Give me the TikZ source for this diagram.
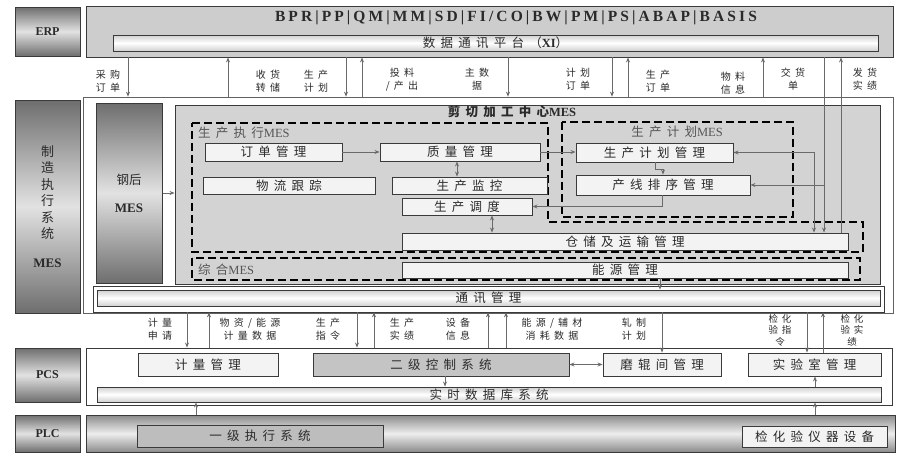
\documentclass[tikz,border=0pt]{standalone}
\usepackage{fontspec}
\setmainfont{Liberation Serif}
\newfontfamily\cjk{Noto Sans CJK SC}[LetterSpace=42]
\newfontfamily\cjkn{Noto Sans CJK SC}
\newfontfamily\ttl{Liberation Serif}[LetterSpace=20]
\newcommand\lat[1]{{\rmfamily #1}}
\usetikzlibrary{arrows.meta}
\definecolor{txt}{HTML}{2A2A2A}
\definecolor{edge}{HTML}{3A3A3A}
\definecolor{arrc}{HTML}{6A6A6A}
\definecolor{panelfill}{HTML}{CDCDCD}
\definecolor{shearfill}{HTML}{D3D3D3}
\definecolor{boxfill}{HTML}{F3F3F3}
\definecolor{ctrlfill}{HTML}{C4C4C4}
\definecolor{lonefill}{HTML}{BDBDBD}
\definecolor{labdark}{HTML}{6E6E6E}
\definecolor{lablight}{HTML}{E2E2E2}
\definecolor{bardark}{HTML}{D0D0D0}
\definecolor{grptxt}{HTML}{555555}
\begin{document}
\begin{tikzpicture}[x=1pt,y=-1pt,
  wh/.style n args={2}{minimum width=#1pt,minimum height=#2pt},
  lbl/.style={draw=edge,line width=1pt,top color=labdark,bottom color=labdark,middle color=lablight,
    font=\rmfamily\bfseries\fontsize{12}{14}\selectfont,text=txt,inner sep=0pt},
  panel/.style={draw=edge,line width=0.9pt,fill=panelfill,inner sep=0pt},
  frame/.style={draw=edge!80,line width=0.7pt,fill=white,inner sep=0pt},
  box/.style={draw=edge,line width=0.9pt,fill=boxfill,inner sep=0pt,text=txt,
    font=\cjk\fontsize{12.5}{14}\selectfont},
  bar/.style={draw=edge,line width=0.9pt,top color=bardark,bottom color=bardark,middle color=white,
    inner sep=0pt,text=txt,font=\cjk\fontsize{12.5}{14}\selectfont},
  grp/.style={text=grptxt,font=\cjk\fontsize{12.5}{14}\selectfont,inner sep=0pt},
  alab/.style={text=txt,font=\cjk\fontsize{10}{13}\selectfont,align=center,inner sep=0pt},
  arr/.style={draw=arrc,line width=0.8pt,-{Stealth[length=5pt,width=4pt]}},
  darr/.style={draw=arrc,line width=0.8pt,{Stealth[length=5pt,width=4pt]}-{Stealth[length=5pt,width=4pt]}},
  dsh/.style={draw=black,line width=2pt,dash pattern=on 8pt off 4pt}
]
\useasboundingbox (0,0) rectangle (897,455);
\fill[white] (0,0) rectangle (897,455);

% ---------------- ERP ----------------
\node[lbl,wh={65}{49}] (erpL) at (47.5,31.5) {ERP};
\node[panel,wh={807}{51}] (erp) at (489.5,31.5) {};
\node[text=txt,font=\ttl\bfseries\fontsize{15.5}{17}\selectfont,inner sep=0pt] (modules) at (516,18)
  {BPR|PP|QM|MM|SD|FI/CO|BW|PM|PS|ABAP|BASIS};
\node[bar,wh={765}{16}] (xi) at (495.5,43) {数据通讯平台（\lat{\bfseries XI}）};

% ---------------- MES ----------------
\node[lbl,wh={65}{213},align=center,font=\cjkn\fontsize{13}{16.5}\selectfont] (mesL) at (47.5,206.5)
  {制\\造\\执\\行\\系\\统\\[12pt]\lat{\bfseries MES}};
\node[frame,wh={810}{216}] (mes) at (488,205) {};
\node[lbl,wh={66}{180},align=center,font=\cjkn\fontsize{12.5}{28}\selectfont] (steel) at (129,193)
  {钢后\\\lat{\bfseries\fontsize{13}{14}\selectfont MES}};
\node[panel,fill=shearfill,wh={705}{179}] (shear) at (527.5,194.5) {};
\node[text=txt,font=\cjk\bfseries\fontsize{12.5}{14}\selectfont,inner sep=0pt] (shearT) at (512,112)
  {剪切加工中心\lat{\bfseries MES}};

\draw[dsh] (192,123) -- (548,123) -- (548,222) -- (863,222) -- (863,252) -- (192,252) -- cycle;
\node[grp,anchor=west] (execT) at (198,133) {生产执行\lat{MES}};
\draw[dsh] (562,122) rectangle (793,217);
\node[grp] (planT) at (677,132) {生产计划\lat{MES}};
\draw[dsh] (192,258) rectangle (860,280);
\node[grp,anchor=west] (intT) at (198,270) {综合\lat{MES}};

\node[box,wh={137}{18}] (order) at (273.5,152) {订单管理};
\node[box,wh={160}{18}] (qual) at (460,152) {质量管理};
\node[box,wh={172}{17}] (logi) at (289,185.5) {物流跟踪};
\node[box,wh={155}{17}] (mon) at (469.5,185.5) {生产监控};
\node[box,wh={130}{17}] (disp) at (467,206.5) {生产调度};
\node[box,wh={446}{17}] (store) at (625,241.5) {仓储及运输管理};
\node[box,wh={446}{16}] (energy) at (625,270) {能源管理};
\node[box,wh={157}{19}] (plan) at (654.5,152.5) {生产计划管理};
\node[box,wh={174}{20}] (seq) at (663,185) {产线排序管理};

\node[frame,draw=edge,wh={791}{26}] (commF) at (488.5,299) {};
\node[bar,wh={783}{16}] (comm) at (488.5,298) {通讯管理};

% internal connectors
\draw[arr] (steel.east) -- (shear.west |- steel.east);
\draw[arr] (order.east) -- (qual.west);
\draw[darr] (457,0 |- qual.south) -- (457,0 |- mon.north);
\draw[darr] (492,0 |- disp.south) -- (492,0 |- store.north);
\draw[arr] (qual.east) -- (plan.west |- qual.east);
\draw[arr] (655,0 |- plan.south) -- (655,169) -- (663,169) -- (663,0 |- seq.north);
\draw[arr] (662,0 |- seq.south) -- (662,0 |- disp.east) -- (disp.east);
\draw[darr] (plan.east) -- (814,0 |- plan.east) -- (814,0 |- store.north);
\draw[arr] (824,0 |- seq.east) -- (seq.east);
\draw[arr] (energy.south -| 660,0) -- (660,0 |- comm.north);

% ERP <-> MES connectors
\draw[arr] (128,0 |- erp.south) -- (128,0 |- mes.north);
\draw[arr] (228,0 |- mes.north) -- (228,0 |- erp.south);
\draw[arr] (346,0 |- erp.south) -- (346,0 |- mes.north);
\draw[arr] (362,0 |- mes.north) -- (362,0 |- erp.south);
\draw[arr] (508,0 |- erp.south) -- (508,0 |- mes.north);
\draw[arr] (612,0 |- erp.south) -- (612,0 |- mes.north);
\draw[arr] (628,0 |- mes.north) -- (628,0 |- erp.south);
\draw[arr] (763,0 |- mes.north) -- (763,0 |- erp.south);
\draw[arr] (824,0 |- erp.south) -- (824,0 |- store.north);
\draw[arr] (841,0 |- store.north) -- (841,0 |- erp.south);

\node[alab] (l1) at (108,81.5) {采购\\订单};
\node[alab] (l2) at (268,81.5) {收货\\转储};
\node[alab] (l3) at (316,81.5) {生产\\计划};
\node[alab] (l4) at (402,79.5) {投料\\/产出};
\node[alab] (l5) at (477,79.5) {主数\\据};
\node[alab] (l6) at (578,79.5) {计划\\订单};
\node[alab] (l7) at (658,81.5) {生产\\订单};
\node[alab] (l8) at (733,83.5) {物料\\信息};
\node[alab] (l9) at (793,79.5) {交货\\单};
\node[alab] (l10) at (865,79.5) {发货\\实绩};

% ---------------- PCS ----------------
\node[lbl,wh={65}{54}] (pcsL) at (47.5,375) {PCS};
\node[frame,draw=edge,line width=0.9pt,wh={806}{57}] (pcs) at (489,376.5) {};
\node[box,wh={140}{23}] (meter) at (208,364.5) {计量管理};
\node[box,fill=ctrlfill,wh={256}{23}] (ctrl) at (441,364.5) {二级控制系统};
\node[box,wh={118}{23}] (mill) at (662,364.5) {磨辊间管理};
\node[box,wh={133}{23}] (lab) at (814.5,364.5) {实验室管理};
\node[bar,wh={784}{15}] (rt) at (489,394.5) {实时数据库系统};
\draw[darr] (ctrl.east) -- (mill.west);
\draw[arr] (445,0 |- ctrl.south) -- (445,0 |- rt.north);
\draw[arr] (815,0 |- rt.north) -- (815,0 |- lab.south);

% MES <-> PCS connectors
\draw[arr] (187,0 |- commF.south) -- (187,0 |- pcs.north);
\draw[arr] (209,0 |- pcs.north) -- (209,0 |- commF.south);
\draw[arr] (357,0 |- commF.south) -- (357,0 |- pcs.north);
\draw[arr] (374,0 |- pcs.north) -- (374,0 |- commF.south);
\draw[arr] (488,0 |- pcs.north) -- (488,0 |- commF.south);
\draw[arr] (506,0 |- pcs.north) -- (506,0 |- commF.south);
\draw[arr] (662,0 |- commF.south) -- (mill.north);
\draw[arr] (807,0 |- commF.south) -- (807,0 |- lab.north);
\draw[arr] (823,0 |- lab.north) -- (823,0 |- commF.south);

\node[alab] (m1) at (160,329) {计量\\申请};
\node[alab] (m2) at (250,329) {物资/能源\\计量数据};
\node[alab] (m3) at (328,329) {生产\\指令};
\node[alab] (m4) at (402,329) {生产\\实绩};
\node[alab] (m5) at (458,329) {设备\\信息};
\node[alab] (m6) at (552,329) {能源/辅材\\消耗数据};
\node[alab] (m7) at (634,329) {轧制\\计划};
\node[alab,font=\cjk\fontsize{9.5}{11.5}\selectfont] (m8) at (780,330) {检化\\验指\\令};
\node[alab,font=\cjk\fontsize{9.5}{11.5}\selectfont] (m9) at (852,330) {检化\\验实\\绩};

% ---------------- PLC ----------------
\node[lbl,wh={65}{37}] (plcL) at (47.5,433.5) {PLC};
\node[lbl,line width=0.9pt,top color=labdark!80,bottom color=labdark!80,middle color=lablight!60!white,wh={809}{37}] (plc) at (490.5,433.5) {};
\node[box,fill=lonefill,wh={246}{22}] (l1sys) at (260,436) {一级执行系统};
\node[box,wh={145}{21}] (instr) at (814.5,436.5) {检化验仪器设备};
\draw[arr] (196,0 |- plc.north) -- (196,0 |- rt.south);
\draw[arr] (815,0 |- plc.north) -- (815,0 |- rt.south);
\end{tikzpicture}
\end{document}
